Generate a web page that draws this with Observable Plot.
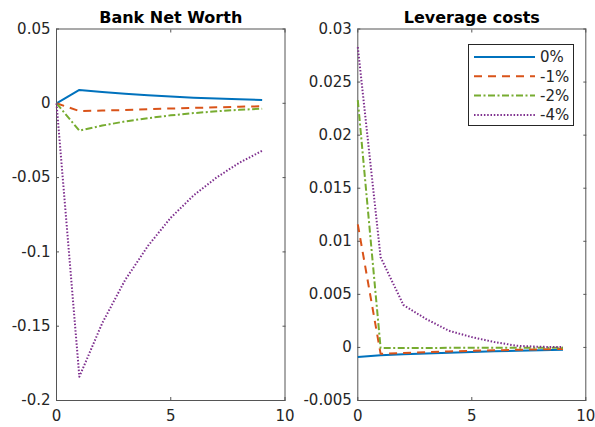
<!DOCTYPE html>
<html><head><meta charset="utf-8">
<script src="https://cdn.jsdelivr.net/npm/d3@7"></script>
<script src="https://cdn.jsdelivr.net/npm/@observablehq/plot@0.6"></script>
<style>
body{margin:0;background:#fff;}
#fig{position:relative;width:595px;height:427px;font-family:"DejaVu Sans",sans-serif;overflow:hidden}
#left{position:absolute;left:0;top:0}
#right{position:absolute;left:297px;top:0}
#legend{position:absolute;left:468px;top:44px}
</style></head><body>
<div id="fig"><div id="left"></div><div id="right"></div><div id="legend"></div></div>
<script>
const steps = [0,1,2,3,4,5,6,7,8,9];
const seriesNames = ["0%","-1%","-2%","-4%"];

// Bank Net Worth
const netWorth0 = [0, 0.0090, 0.0076, 0.0064, 0.0054, 0.0045, 0.0038, 0.0032, 0.0027, 0.0022];
const netWorth1 = [0, -0.0052, -0.0049, -0.0045, -0.0040, -0.0035, -0.0031, -0.0027, -0.0023, -0.0020];
const netWorth2 = [0, -0.0184, -0.0150, -0.0122, -0.0100, -0.0081, -0.0066, -0.0054, -0.0044, -0.0036];
const netWorth4 = [0, -0.184, -0.148, -0.119, -0.096, -0.077, -0.062, -0.050, -0.040, -0.032];

// Leverage costs
const leverage0 = [-0.0009, -0.00073, -0.00065, -0.00057, -0.0005, -0.00042, -0.00036, -0.00031, -0.00027, -0.00023];
const leverage1 = [0.0116, -0.0006, -0.00052, -0.00045, -0.00038, -0.00032, -0.00027, -0.00022, -0.00018, -0.00015];
const leverage2 = [0.0233, -0.00005, -0.00005, -0.00005, -0.00004, -0.00004, -0.00003, -0.00003, -0.00002, -0.00002];
const leverage4 = [0.0283, 0.0085, 0.0040, 0.00267, 0.00157, 0.00097, 0.0005, 0.00015, 0.00006, 0.00003];

const xTicks = [0, 5, 10];
const yTicksLeft = [-0.2, -0.15, -0.1, -0.05, 0, 0.05];
const yTicksRight = [-0.005, 0, 0.005, 0.01, 0.015, 0.02, 0.025, 0.03];

const colors = ["#0072BD", "#D95319", "#77AC30", "#7E2F8E"];
const dashes = [null, "8,6", "7,2.5,2,2.5", "1.5,1.8"];

function rows(values) { return steps.map((t, i) => ({t, v: values[i]})); }

function panel({title, series, yDomain, yTicks, width, marginLeft, marginRight}) {
  const marks = [
    Plot.frame({stroke: "#555", strokeWidth: 1}),
    Plot.axisX({ticks: xTicks, tickSize: 0, tickPadding: 10, tickFormat: d => String(d), label: null}),
    Plot.axisX({ticks: xTicks, anchor: "bottom", tickSize: -3, tickFormat: () => "", label: null, stroke: "#555"}),
    Plot.axisX({ticks: xTicks, anchor: "top", tickSize: -3, tickFormat: () => "", label: null, stroke: "#555"}),
    Plot.axisY({ticks: yTicks, tickSize: 0, tickPadding: 6, tickFormat: d => String(d), label: null}),
    Plot.axisY({ticks: yTicks, anchor: "left", tickSize: -3, tickFormat: () => "", label: null, stroke: "#555"}),
    Plot.axisY({ticks: yTicks, anchor: "right", tickSize: -3, tickFormat: () => "", label: null, stroke: "#555"}),
  ];
  series.forEach((vals, k) => {
    marks.push(Plot.line(rows(vals), {x: "t", y: "v", stroke: colors[k], strokeWidth: 2,
      strokeDasharray: dashes[k] || undefined, strokeLinecap: "butt", strokeLinejoin: "round"}));
  });
  marks.push(Plot.text([title], {frameAnchor: "top", dy: -6, lineAnchor: "bottom",
    fontWeight: "bold", fontSize: 16, fill: "#000"}));
  return Plot.plot({
    width, height: 427,
    marginLeft, marginRight, marginTop: 28.5, marginBottom: 27,
    x: {domain: [0, 10]},
    y: {domain: yDomain},
    style: {fontFamily: "DejaVu Sans, sans-serif", fontSize: "15px", color: "#262626", background: "transparent"},
    marks
  });
}

document.getElementById("left").appendChild(panel({
  title: "Bank Net Worth",
  series: [netWorth0, netWorth1, netWorth2, netWorth4],
  yDomain: [-0.2, 0.05], yTicks: yTicksLeft,
  width: 297, marginLeft: 56, marginRight: 12.5
}));
document.getElementById("right").appendChild(panel({
  title: "Leverage costs",
  series: [leverage0, leverage1, leverage2, leverage4],
  yDomain: [-0.005, 0.03], yTicks: yTicksRight,
  width: 298, marginLeft: 60.3, marginRight: 9.7
}));

// Legend
const lw = 106, lh = 82;
const lg = d3.select("#legend").append("svg").attr("width", lw).attr("height", lh)
  .style("font-family", "DejaVu Sans, sans-serif").style("font-size", "15px");
lg.append("rect").attr("x", 0.5).attr("y", 0.5).attr("width", lw - 1).attr("height", lh - 1)
  .attr("fill", "#fff").attr("stroke", "#262626").attr("stroke-width", 1);
seriesNames.forEach((name, k) => {
  const cy = 13 + k * 19.3;
  lg.append("line").attr("x1", 6).attr("x2", 67).attr("y1", cy).attr("y2", cy)
    .attr("stroke", colors[k]).attr("stroke-width", 2)
    .attr("stroke-dasharray", dashes[k]);
  lg.append("text").attr("x", 72).attr("y", cy).attr("dy", "0.36em").attr("fill", "#262626").text(name);
});
</script>
</body></html>
